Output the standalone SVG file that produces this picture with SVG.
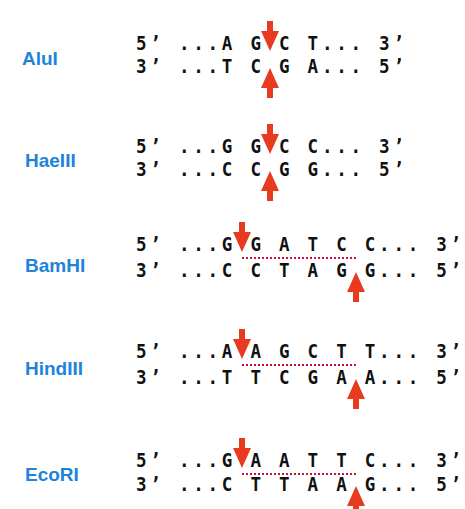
<svg xmlns="http://www.w3.org/2000/svg" xmlns:xlink="http://www.w3.org/1999/xlink" width="465" height="509" viewBox="0 0 465 509">
<style>
.lbl{font-family:"Liberation Sans",Arial,sans-serif;font-weight:bold;font-size:19px;fill:#2183d9;}
.seq{font-family:"DejaVu Sans Mono",monospace;font-weight:bold;font-size:19.5px;letter-spacing:4.15px;fill:#111;}
.arr{fill:#e83a1e;}
.dot{stroke:#c8143c;stroke-width:2;stroke-dasharray:2 2;fill:none;}
</style>
<defs>
<path id="dn" d="M0,0 L-9,-20 L-3,-20 L-3,-30 L3,-30 L3,-20 L9,-20 Z"/>
<path id="up" d="M0,0 L-9,20 L-3,20 L-3,30 L3,30 L3,20 L9,20 Z"/>
</defs>
<rect width="465" height="509" fill="#fff"/>
<g id="AluI">
<text class="lbl" x="22" y="65">AluI</text>
<text class="seq" transform="translate(136,50) scale(0.9,1)">5’ ...A G C T... 3’</text>
<text class="seq" transform="translate(136,73) scale(0.9,1)">3’ ...T C G A... 5’</text>
</g>
<g id="HaeIII">
<text class="lbl" x="25" y="167">HaeIII</text>
<text class="seq" transform="translate(136,153) scale(0.9,1)">5’ ...G G C C... 3’</text>
<text class="seq" transform="translate(136,176) scale(0.9,1)">3’ ...C C G G... 5’</text>
</g>
<g id="BamHI">
<text class="lbl" x="25" y="272">BamHI</text>
<text class="seq" transform="translate(136,251) scale(0.9,1)">5’ ...G G A T C C... 3’</text>
<text class="seq" transform="translate(136,277) scale(0.9,1)">3’ ...C C T A G G... 5’</text>
</g>
<g id="HindIII">
<text class="lbl" x="25" y="375">HindIII</text>
<text class="seq" transform="translate(136,358) scale(0.9,1)">5’ ...A A G C T T... 3’</text>
<text class="seq" transform="translate(136,384) scale(0.9,1)">3’ ...T T C G A A... 5’</text>
</g>
<g id="EcoRI">
<text class="lbl" x="25" y="481">EcoRI</text>
<text class="seq" transform="translate(136,467) scale(0.9,1)">5’ ...G A A T T C... 3’</text>
<text class="seq" transform="translate(136,491) scale(0.9,1)">3’ ...C T T A A G... 5’</text>
</g>
<g id="cuts">
<use xlink:href="#dn" class="arr" x="270" y="51"/>
<use xlink:href="#up" class="arr" x="270" y="68"/>
<use xlink:href="#dn" class="arr" x="270" y="154"/>
<use xlink:href="#up" class="arr" x="270" y="171"/>
<line class="dot" x1="242" y1="258" x2="356" y2="258"/>
<use xlink:href="#dn" class="arr" x="242" y="252"/>
<use xlink:href="#up" class="arr" x="356" y="272"/>
<line class="dot" x1="242" y1="365" x2="356" y2="365"/>
<use xlink:href="#dn" class="arr" x="242" y="359"/>
<use xlink:href="#up" class="arr" x="356" y="379"/>
<line class="dot" x1="242" y1="474" x2="356" y2="474"/>
<use xlink:href="#dn" class="arr" x="242" y="468"/>
<use xlink:href="#up" class="arr" x="356" y="486"/>
</g>
</svg>
